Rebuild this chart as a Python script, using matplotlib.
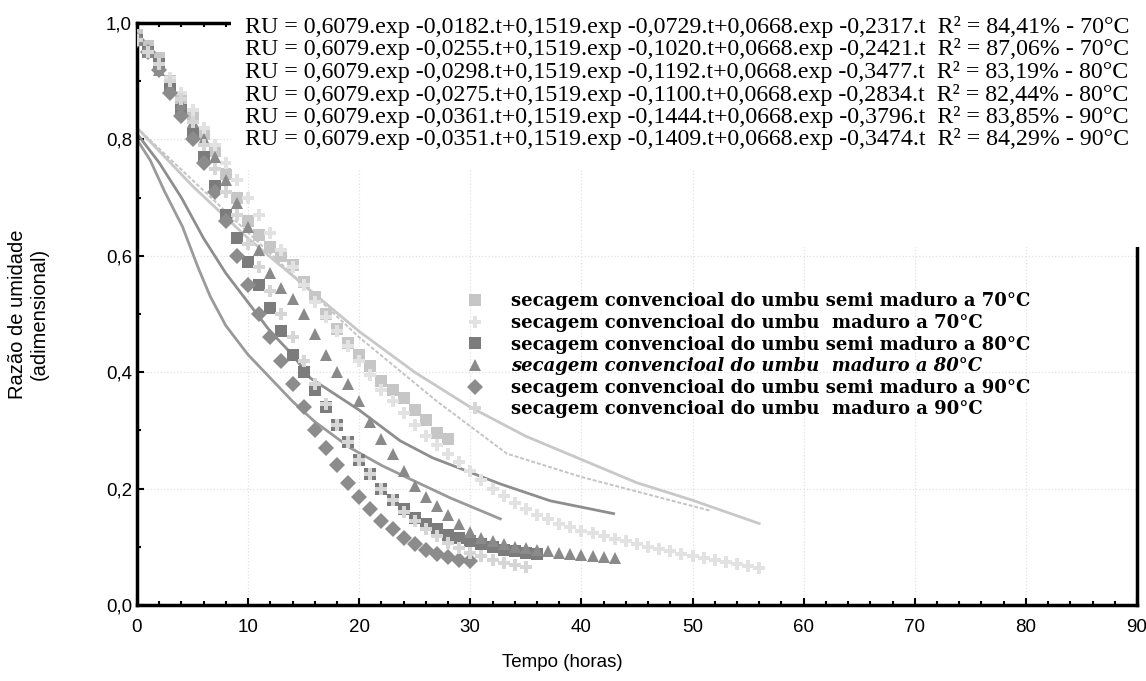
import matplotlib
matplotlib.use("Agg")
import matplotlib.pyplot as plt
from matplotlib.patches import Rectangle
from matplotlib.ticker import MultipleLocator, FuncFormatter

# --- data -----------------------------------------------------------------
# semi maduro 70 C (light dotted squares)
t_s70 = list(range(0, 29))
ru_s70 = [0.98, 0.96, 0.94, 0.90, 0.87, 0.84, 0.81, 0.78, 0.74, 0.70, 0.66, 0.635, 0.615,
          0.60, 0.585, 0.555, 0.53, 0.50, 0.475, 0.45, 0.43, 0.41, 0.385, 0.37, 0.355, 0.335,
          0.318, 0.295, 0.285]
# maduro 70 C (very light)
t_m70 = list(range(0, 57))
ru_m70 = [0.97, 0.95, 0.93, 0.905, 0.88, 0.85, 0.82, 0.79, 0.76, 0.73, 0.70, 0.67, 0.64,
          0.61, 0.58, 0.55, 0.52, 0.495, 0.47, 0.445, 0.42, 0.395, 0.37, 0.35, 0.33, 0.31,
          0.29, 0.275, 0.26, 0.245, 0.23, 0.215, 0.20, 0.187, 0.175, 0.165, 0.155, 0.147,
          0.14, 0.134, 0.128, 0.123, 0.118, 0.114, 0.11, 0.105, 0.10, 0.096, 0.092, 0.088,
          0.085, 0.081, 0.078, 0.074, 0.07, 0.067, 0.064]
# semi maduro 80 C (dark squares)
t_s80 = list(range(0, 37))
ru_s80 = [0.97, 0.95, 0.93, 0.89, 0.85, 0.81, 0.77, 0.72, 0.67, 0.63, 0.59, 0.55, 0.51,
          0.47, 0.43, 0.40, 0.37, 0.34, 0.31, 0.28, 0.25, 0.225, 0.20, 0.18, 0.165, 0.15,
          0.14, 0.13, 0.12, 0.115, 0.11, 0.105, 0.10, 0.095, 0.092, 0.09, 0.088]
# maduro 80 C (triangles)
t_m80 = list(range(0, 44))
ru_m80 = [0.97, 0.95, 0.92, 0.89, 0.86, 0.83, 0.80, 0.77, 0.73, 0.69, 0.65, 0.61, 0.57,
          0.545, 0.525, 0.50, 0.465, 0.43, 0.40, 0.38, 0.35, 0.315, 0.285, 0.26, 0.23, 0.205,
          0.185, 0.17, 0.155, 0.14, 0.125, 0.115, 0.11, 0.105, 0.10, 0.098, 0.095, 0.092,
          0.09, 0.088, 0.086, 0.084, 0.082, 0.08]
# semi maduro 90 C (diamonds)
t_s90 = list(range(0, 31))
ru_s90 = [0.97, 0.95, 0.92, 0.88, 0.84, 0.80, 0.76, 0.71, 0.66, 0.60, 0.55, 0.50, 0.46,
          0.42, 0.38, 0.34, 0.30, 0.27, 0.24, 0.21, 0.185, 0.165, 0.145, 0.13, 0.115, 0.105,
          0.095, 0.088, 0.082, 0.078, 0.075]
# maduro 90 C (very light)
t_m90 = list(range(0, 36))
ru_m90 = [0.97, 0.95, 0.93, 0.90, 0.87, 0.83, 0.79, 0.75, 0.71, 0.67, 0.62, 0.58, 0.54,
          0.50, 0.46, 0.42, 0.38, 0.345, 0.31, 0.28, 0.25, 0.225, 0.20, 0.18, 0.16, 0.145,
          0.13, 0.118, 0.107, 0.098, 0.09, 0.084, 0.078, 0.073, 0.069, 0.065]

# fitted curves
fit_a_t = [0, 1.2, 2.5, 4.1, 5.5, 6.6, 8, 10, 12, 14, 16, 19.2, 22, 24.3, 28.2, 32.7]
fit_a_ru = [0.80, 0.764, 0.71, 0.65, 0.58, 0.53, 0.48, 0.43, 0.39, 0.35, 0.315, 0.27,
            0.24, 0.219, 0.184, 0.148]
fit_b_t = [0, 2, 4, 6, 8, 10, 12, 14, 15.6, 18, 20, 23.7, 26.6, 32.7, 37.2, 42.9]
fit_b_ru = [0.81, 0.76, 0.70, 0.63, 0.57, 0.52, 0.47, 0.43, 0.39, 0.36, 0.335, 0.282,
            0.253, 0.208, 0.179, 0.157]
fit_c_t = [0, 5, 10, 15, 20, 25, 30, 35, 40, 45, 50, 56]
fit_c_ru = [0.82, 0.72, 0.63, 0.55, 0.47, 0.40, 0.34, 0.29, 0.25, 0.21, 0.18, 0.14]
fit_d_t = [0, 5, 10, 15, 20, 27, 33.3, 40, 45, 51.6]
fit_d_ru = [0.82, 0.73, 0.64, 0.55, 0.46, 0.35, 0.26, 0.22, 0.195, 0.162]

series_labels = [
    "secagem convencioal do umbu semi maduro a 70°C",
    "secagem convencioal do umbu  maduro a 70°C",
    "secagem convencioal do umbu semi maduro a 80°C",
    "secagem convencioal do umbu  maduro a 80°C",
    "secagem convencioal do umbu semi maduro a 90°C",
    "secagem convencioal do umbu  maduro a 90°C",
]
equations = [
    "RU = 0,6079.exp -0,0182.t+0,1519.exp -0,0729.t+0,0668.exp -0,2317.t  R² = 84,41% - 70°C",
    "RU = 0,6079.exp -0,0255.t+0,1519.exp -0,1020.t+0,0668.exp -0,2421.t  R² = 87,06% - 70°C",
    "RU = 0,6079.exp -0,0298.t+0,1519.exp -0,1192.t+0,0668.exp -0,3477.t  R² = 83,19% - 80°C",
    "RU = 0,6079.exp -0,0275.t+0,1519.exp -0,1100.t+0,0668.exp -0,2834.t  R² = 82,44% - 80°C",
    "RU = 0,6079.exp -0,0361.t+0,1519.exp -0,1444.t+0,0668.exp -0,3796.t  R² = 83,85% - 90°C",
    "RU = 0,6079.exp -0,0351.t+0,1519.exp -0,1409.t+0,0668.exp -0,3474.t  R² = 84,29% - 90°C",
]

fig = plt.figure(figsize=(11.46, 6.81), dpi=100)
ax = fig.add_axes([0.1195, 0.1116, 0.8726, 0.8546])

ax.grid(True, color="#e2e2e2", linestyle=":", linewidth=0.9)
ax.set_axisbelow(True)

# fitted curves
ax.plot(fit_d_t, fit_d_ru, color="#c4c4c4", lw=1.4, ls=(0, (2, 1)), zorder=2)
ax.plot(fit_c_t, fit_c_ru, color="#c8c8c8", lw=2.0, zorder=2)
ax.plot(fit_b_t, fit_b_ru, color="#8e8e8e", lw=2.0, zorder=2)
ax.plot(fit_a_t, fit_a_ru, color="#9a9a9a", lw=2.0, zorder=2)

styles = [
    (t_s70, ru_s70, "s", "#c6c6c6", 9),
    (t_m70, ru_m70, "P", "#e2e2e2", 8),
    (t_s80, ru_s80, "s", "#7c7c7c", 9),
    (t_m80, ru_m80, "^", "#8a8a8a", 9),
    (t_s90, ru_s90, "D", "#8c8c8c", 8),
    (t_m90, ru_m90, "P", "#d6d6d6", 8),
]
handles = []
for (t, ru, mk, col, ms), lab in zip(styles, series_labels):
    h, = ax.plot(t, ru, linestyle="none", marker=mk, color=col, markersize=ms,
                 markeredgewidth=0, label=lab, zorder=3)
    handles.append(h)

ax.set_xlim(0, 90)
ax.set_ylim(0, 1.0)
ax.xaxis.set_major_locator(MultipleLocator(10))
ax.xaxis.set_minor_locator(MultipleLocator(2))
ax.yaxis.set_major_locator(MultipleLocator(0.2))
ax.yaxis.set_minor_locator(MultipleLocator(0.1))
ax.yaxis.set_major_formatter(FuncFormatter(lambda v, p: f"{v:.1f}".replace(".", ",")))
ax.tick_params(which="both", direction="in", top=True, width=1.5, labelsize=13.5)
ax.tick_params(which="major", length=5)
ax.tick_params(which="minor", length=3)
ax.tick_params(axis="x", pad=10)
for lbl in ax.get_xticklabels():
    lbl.set_family(["Liberation Sans Narrow", "Liberation Sans"])
for lbl in ax.get_yticklabels():
    lbl.set_family("Liberation Sans")
for sp in ax.spines.values():
    sp.set_linewidth(2.5)

ax.set_xlabel("Tempo (horas)", fontsize=13.5, family=["Liberation Sans Narrow", "Liberation Sans"],
              labelpad=14)
ax.xaxis.set_label_coords(0.425, -0.085)
ax.set_ylabel("Razão de umidade\n(adimensional)", fontsize=14.5, family="Liberation Sans")
ax.yaxis.set_label_coords(-0.088, 0.5)

# white area behind the equations
ax.add_patch(Rectangle((0.094, 0.75), 0.93, 0.3, transform=ax.transAxes,
                       facecolor="white", edgecolor="none", clip_on=False, zorder=5))
ax.add_patch(Rectangle((0.6, 0.615), 0.42, 0.14, transform=ax.transAxes,
                       facecolor="white", edgecolor="none", clip_on=False, zorder=5))

for i, eq in enumerate(equations):
    fig.text(245 / 1146, 1 - (27 + 22.5 * i) / 681, eq, fontsize=17.2, family="Liberation Serif",
             ha="left", va="center", zorder=10)

leg = ax.legend(handles=handles, loc="upper left", bbox_to_anchor=(0.304, 0.565),
                frameon=False, handletextpad=1.0, labelspacing=0.2,
                prop={"family": "DejaVu Serif", "weight": "bold", "size": 13.0})
leg.get_texts()[3].set_style("italic")

fig.savefig("out.png", dpi=100)
